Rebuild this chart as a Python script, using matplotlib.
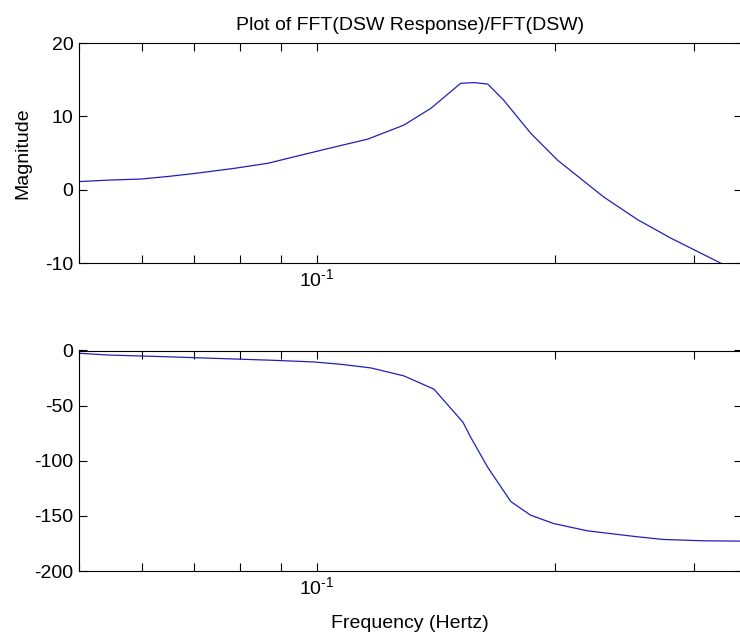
import matplotlib
matplotlib.use("Agg")
import matplotlib.pyplot as plt
from matplotlib.ticker import LogLocator, NullFormatter, FixedLocator, FixedFormatter

plt.rcParams['font.family'] = ['Liberation Sans', 'DejaVu Sans']
plt.rcParams['mathtext.fontset'] = 'custom'
plt.rcParams['mathtext.rm'] = 'Liberation Sans'
plt.rcParams['mathtext.it'] = 'Liberation Sans'
plt.rcParams['axes.unicode_minus'] = False

# magnitude of FFT(DSW Response)/FFT(DSW)
freq_mag = [0.05, 0.0544, 0.0599, 0.0648, 0.0699, 0.0785, 0.0867, 0.0954, 0.1051,
            0.116, 0.1288, 0.1394, 0.152, 0.158, 0.1645, 0.1723, 0.1864, 0.2017,
            0.2306, 0.2546, 0.2803, 0.324, 0.345]
magnitude = [1.1, 1.3, 1.45, 1.8, 2.2, 2.9, 3.6, 4.7, 5.8,
             6.9, 8.8, 11.1, 14.5, 14.6, 14.4, 12.2, 7.7, 4.0,
             -1.0, -4.1, -6.6, -10.0, -11.5]

# phase (degrees)
freq_ph = [0.05, 0.0544, 0.0641, 0.0763, 0.0882, 0.0991, 0.1072, 0.117, 0.1288,
           0.1406, 0.153, 0.1566, 0.1645, 0.1759, 0.1864, 0.1994, 0.2201, 0.2546,
           0.2746, 0.3084, 0.345]
phase = [-2.5, -4.1, -5.6, -7.4, -8.9, -10.4, -12.5, -15.8, -23,
         -35, -65, -79, -106, -137, -149.4, -157, -163.6, -169,
         -171.4, -172.6, -172.9]

mag_ticks = [-10, 0, 10, 20]
ph_ticks = [-200, -150, -100, -50, 0]
x_ticks = [0.1]
x_ticklabels = [r'$\mathdefault{10^{\text{-}1}}$']

line_color = '#2020b8'
W, H = 740, 638
fig = plt.figure(figsize=(W / 100, H / 100), dpi=100)

left = 79 / W
width = (742 - 79) / W
ax1 = fig.add_axes([left, 1 - 263 / H, width, 220 / H])
ax2 = fig.add_axes([left, 1 - 571 / H, width, 220.5 / H])


def style(ax):
    ax.set_xscale('log')
    ax.set_xlim(0.05, 0.345)
    ax.xaxis.set_major_locator(FixedLocator(x_ticks))
    ax.xaxis.set_major_formatter(FixedFormatter(x_ticklabels))
    ax.xaxis.set_minor_locator(LogLocator(base=10, subs=range(2, 10)))
    ax.xaxis.set_minor_formatter(NullFormatter())
    ax.tick_params(which='both', direction='in', top=True, right=True,
                   length=6, width=0.8, labelsize=14, color='black')
    ax.tick_params(axis='y', pad=4)
    ax.tick_params(axis='x', pad=4)
    for s in ax.spines.values():
        s.set_linewidth(0.8)


ax1.plot(freq_mag, magnitude, color=line_color, lw=0.9)
style(ax1)
ax1.set_ylim(-10, 20)
ax1.set_yticks(mag_ticks)
ax1.set_ylabel('Magnitude', fontsize=14)
ax1.yaxis.set_label_coords((31 - 79) / 663, 0.5)
ax1.set_title('Plot of FFT(DSW Response)/FFT(DSW)', fontsize=14, pad=9)

ax2.plot(freq_ph, phase, color=line_color, lw=0.9)
style(ax2)
ax2.set_ylim(-200, 0)
ax2.set_yticks(ph_ticks)
ax2.set_xlabel('Frequency (Hertz)', fontsize=14)
ax2.xaxis.set_label_coords(0.499, (571 - 615) / 220.5)

fig.savefig('out.png', dpi=100)
